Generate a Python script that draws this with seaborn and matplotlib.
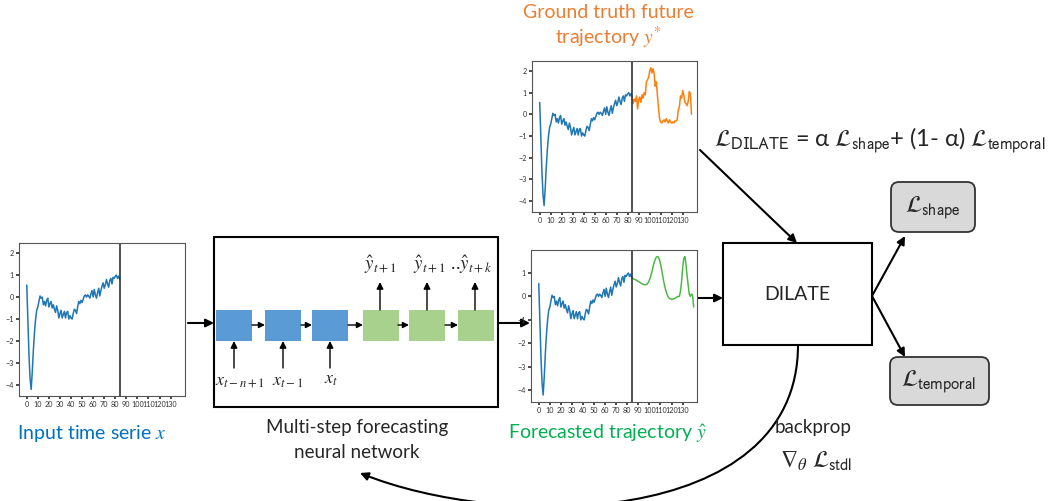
import numpy as np
import pandas as pd
import matplotlib.pyplot as plt
import seaborn as sns
from matplotlib.patches import Rectangle, FancyBboxPatch, FancyArrowPatch
from matplotlib.path import Path

# series values
past_values = [0.55, -1.0, -2.6, -3.7, -4.2, -3.4, -2.4, -1.6, -1.0, -0.6,
               -0.45, -0.2, 0.05, -0.05, 0.0, -0.35, -0.2, -0.4, -0.15, -0.05,
               -0.45, -0.3, -0.2, -0.5, -0.35, -0.55, -0.7, -0.4, -0.6, -0.95,
               -0.75, -0.6, -0.95, -0.8, -0.65, -0.95, -0.7, -0.65, -1.0, -0.85,
               -0.95, -1.0, -0.75, -0.55, -0.6, -0.75, -0.45, -0.2, -0.3, -0.15,
               -0.25, -0.1, 0.05, 0.1, 0.0, 0.1, 0.05, -0.05, 0.15, 0.3,
               0.0, 0.35, 0.1, -0.05, 0.2, 0.4, 0.05, 0.3, 0.5, 0.65,
               0.4, 0.55, 0.8, 0.6, 0.45, 0.75, 0.85, 0.6, 0.9, 0.85,
               0.95, 1.0, 0.85, 0.95, 0.8]
truth_values = [0.8, 0.5, 0.7, 0.6, 0.85, 0.25, 0.7, 0.8, 0.55, 0.9,
                0.75, 1.0, 0.9, 1.5, 1.6, 1.7, 2.0, 2.15, 1.9, 2.1,
                1.9, 1.3, 1.5, 0.9, 0.3, -0.2, -0.35, -0.4, -0.3, -0.25,
                -0.35, -0.2, -0.3, -0.4, -0.25, -0.35, -0.4, -0.35, -0.4, -0.3,
                -0.3, -0.25, 0.2, 0.35, 0.85, 0.75, 1.1, 0.9, 0.55, 0.5,
                0.4, 0.6, 1.05, 0.95, 0.0]
forecast_values = [0.8, 0.77, 0.74, 0.72, 0.7, 0.67, 0.64, 0.61, 0.58, 0.55,
                   0.53, 0.51, 0.5, 0.5, 0.53, 0.6, 0.7, 0.83, 1.0, 1.2,
                   1.4, 1.55, 1.66, 1.7, 1.68, 1.58, 1.4, 1.15, 0.88, 0.62,
                   0.4, 0.22, 0.08, -0.02, -0.08, -0.11, -0.12, -0.12, -0.1, -0.08,
                   -0.05, -0.02, 0.0, 0.0, 0.2, 0.6, 1.2, 1.6, 1.7, 1.4,
                   0.9, 0.5, 0.1, 0.0, 0.1, 0.05, -0.45]
split_t = 84
x_ticks = list(range(0, 140, 10))

past_df = pd.DataFrame({'t': range(len(past_values)), 'v': past_values})
truth_df = pd.DataFrame({'t': range(split_t, split_t + len(truth_values)), 'v': truth_values})
forecast_df = pd.DataFrame({'t': range(split_t, split_t + len(forecast_values)), 'v': forecast_values})

sns.set_theme(style="white")
plt.rcParams['font.family'] = ['Lato', 'DejaVu Sans']
plt.rcParams['mathtext.fontset'] = 'stix'

W, H = 1058, 501
fig = plt.figure(figsize=(W / 100, H / 100), dpi=100)
ax = fig.add_axes([0, 0, 1, 1])
ax.set_xlim(0, W)
ax.set_ylim(H, 0)
ax.axis('off')

BLUE = '#1f77b4'
ORANGE = '#ff7f0e'
GREEN = '#4cb944'


def mini_plot(left, top, right, bottom, future_df=None, color=None, ylim=(-4.5, 2.46)):
    a = fig.add_axes([left / W, 1 - bottom / H, (right - left) / W, (bottom - top) / H])
    sns.lineplot(data=past_df, x='t', y='v', color=BLUE, lw=1.1, ax=a)
    if future_df is not None:
        sns.lineplot(data=future_df, x='t', y='v', color=color, lw=1.1, ax=a)
    a.axvline(split_t, color='#333333', lw=1.2)
    a.set_xlim(-7, 143)
    a.set_ylim(*ylim)
    a.set_xticks(x_ticks)
    a.set_yticks(range(-4, int(ylim[1]) + 1))
    a.tick_params(labelsize=5.2, length=2, pad=1.5, colors='#333333', bottom=True, left=True)
    a.set_xlabel('')
    a.set_ylabel('')
    for s in a.spines.values():
        s.set_color('#555555')
        s.set_linewidth(0.8)
    return a


mini_plot(19, 243, 185, 396)
mini_plot(532, 61, 697, 212, truth_df, ORANGE)
mini_plot(531, 250, 697, 402, forecast_df, GREEN, ylim=(-4.5, 1.98))


def arrow(x0, y0, x1, y1, lw=1.5, ms=12):
    ax.annotate('', xy=(x1, y1), xytext=(x0, y0),
                arrowprops=dict(arrowstyle='-|>', color='black', lw=lw,
                                mutation_scale=ms, shrinkA=0, shrinkB=0))


# network block
ax.add_patch(Rectangle((214, 237), 284, 170, fill=False, ec='black', lw=1.5))
for x0 in [216, 265, 312]:
    ax.add_patch(Rectangle((x0, 310), 36, 31, fc='#5b9bd5', ec='none'))
for x0 in [363, 409, 458]:
    ax.add_patch(Rectangle((x0, 310), 36, 31, fc='#a9d18e', ec='none'))
for x0, x1 in [(252, 265), (301, 312), (348, 363), (398, 409), (445, 458)]:
    arrow(x0, 325, x1, 325, lw=1.0, ms=9)
for xc in [234, 283, 330]:
    arrow(xc, 368, xc, 341, lw=1.0, ms=10)
for xc in [380, 427, 475]:
    arrow(xc, 310, xc, 282, lw=1.0, ms=10)

ax.text(240, 382, r'$x_{t-n+1}$', fontsize=13, ha='center', va='center')
ax.text(288, 382, r'$x_{t-1}$', fontsize=13, ha='center', va='center')
ax.text(331, 380, r'$x_t$', fontsize=13, ha='center', va='center')
ax.text(380, 265, r'$\hat{y}_{t+1}$', fontsize=13.5, ha='center', va='center')
ax.text(453, 265, r'$\hat{y}_{t+1}$ ..$\hat{y}_{t+k}$', fontsize=13.5, ha='center', va='center')

# connecting arrows
arrow(188, 323, 214, 323)
arrow(498, 323, 530, 323)
arrow(698, 298, 723, 298)
arrow(700, 150, 797, 243)
arrow(872, 296, 905, 236)
arrow(872, 296, 905, 357)

# DILATE and loss boxes
ax.add_patch(Rectangle((723, 243), 149, 102, fill=False, ec='black', lw=1.5))
ax.text(797, 295, 'DILATE', fontsize=14, ha='center', va='center')
ax.add_patch(FancyBboxPatch((891, 182), 84, 50, boxstyle='round,pad=0,rounding_size=8',
                            fc='#d9d9d9', ec='#333333', lw=1.3))
ax.add_patch(FancyBboxPatch((890, 357), 99, 48, boxstyle='round,pad=0,rounding_size=8',
                            fc='#d9d9d9', ec='#333333', lw=1.3))
ax.text(933, 208, r'$\mathcal{L}_{\mathrm{shape}}$', fontsize=17, ha='center', va='center',
        math_fontfamily='stixsans')
ax.text(939, 382, r'$\mathcal{L}_{\mathrm{temporal}}$', fontsize=17, ha='center', va='center',
        math_fontfamily='stixsans')

ax.text(880, 140, r'$\mathcal{L}_{\mathrm{DILATE}}$ = α $\mathcal{L}_{\mathrm{shape}}$+ (1- α) $\mathcal{L}_{\mathrm{temporal}}$',
        fontsize=17, ha='center', va='center', math_fontfamily='stixsans')

# backprop curve
verts = [(798, 345), (798, 530), (500, 530), (360, 473)]
curve = FancyArrowPatch(path=Path(verts, [Path.MOVETO, Path.CURVE4, Path.CURVE4, Path.CURVE4]),
                        arrowstyle='-|>', color='black', lw=1.5, mutation_scale=12)
ax.add_patch(curve)
ax.text(775, 427, 'backprop', fontsize=13.5, ha='left', va='center')
ax.text(780, 461, r'$\nabla_\theta$', fontsize=17, ha='left', va='center')
ax.text(812, 461, r'$\mathcal{L}_{\mathrm{stdl}}$', fontsize=17, ha='left', va='center',
        math_fontfamily='stixsans')

# captions
ax.text(92, 434, r'Input time serie $x$', fontsize=14, color='#0070c0', ha='center', va='center')
ax.text(357, 428, 'Multi-step forecasting', fontsize=13.5, ha='center', va='center')
ax.text(357, 453, 'neural network', fontsize=13.5, ha='center', va='center')
ax.text(607, 434, r'Forecasted trajectory $\hat{y}$', fontsize=14, color='#00b050', ha='center', va='center')
ax.text(608, 12, 'Ground truth future', fontsize=14, color='#ed7d31', ha='center', va='center')
ax.text(608, 38, r'trajectory $y^{*}$', fontsize=14, color='#ed7d31', ha='center', va='center')

fig.savefig('out.png', dpi=100)
plt.close(fig)
